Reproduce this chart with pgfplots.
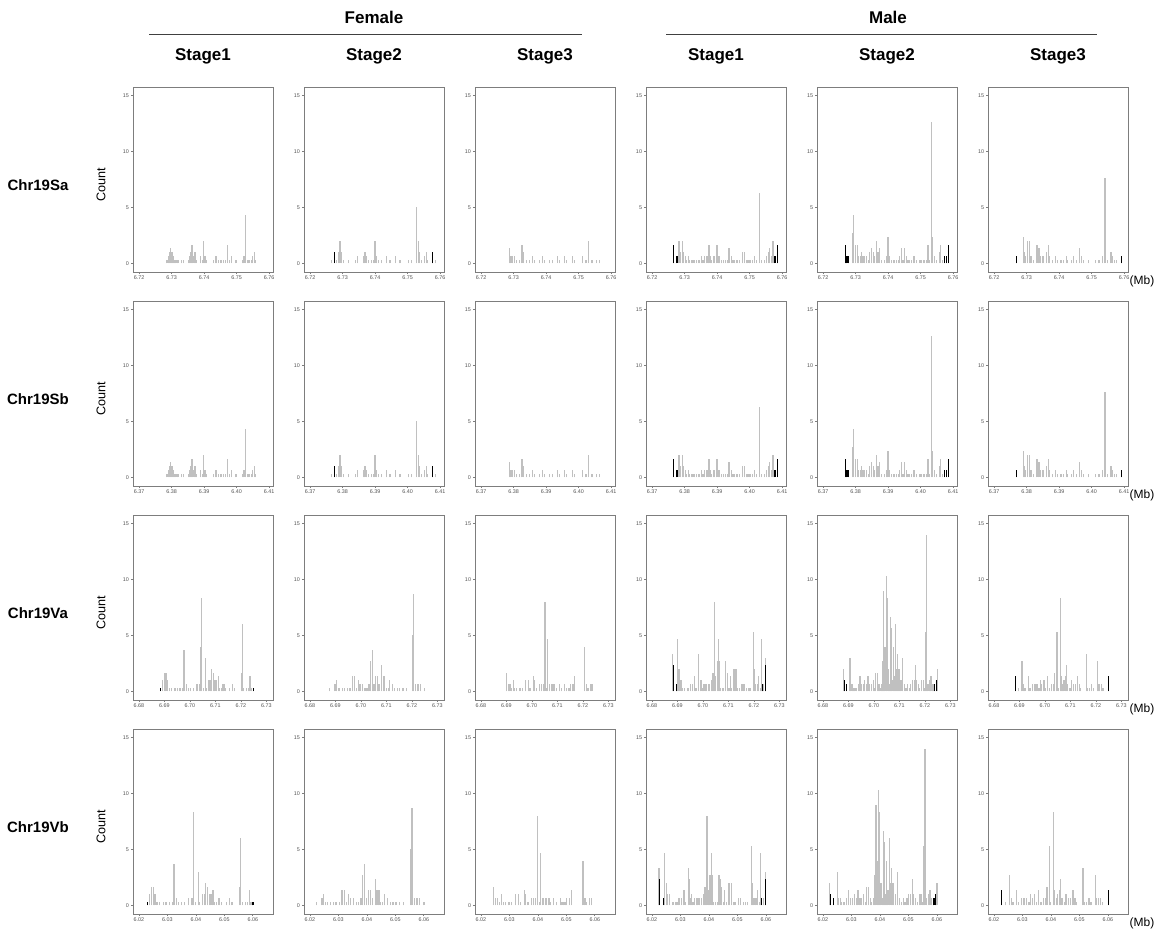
\documentclass[border=0pt]{standalone}
\usepackage{fontspec}
\setmainfont{Liberation Sans}
\usepackage{pgfplots}
\usepackage{pgfplotstable}
\pgfplotsset{compat=1.18}
\definecolor{barc}{RGB}{192,192,192}
\definecolor{framec}{RGB}{125,125,125}
\definecolor{tickc}{RGB}{85,85,85}

% ---------- gene S (Chr19Sa / Chr19Sb), x in kb from 6.72 (Sa) / 6.37 (Sb)
\pgfplotstableread{
x y
8.6 0.33
9.0 0.67
9.3 1.0
9.6 1.33
9.9 1.0
10.3 1.0
10.6 0.67
11.0 0.33
11.4 0.33
12.0 0.33
13.0 0.33
13.8 0.33
15.3 0.33
15.7 0.67
16.0 1.0
16.3 1.67
16.6 0.67
17.0 1.0
17.4 1.0
17.7 0.33
19.0 0.67
19.4 0.33
19.8 2.0
20.1 0.67
20.5 0.67
20.8 0.33
22.8 0.33
23.4 0.67
23.8 0.67
24.4 0.33
25.2 0.33
25.9 0.33
26.5 0.33
27.2 1.67
27.8 0.33
28.5 0.67
29.8 0.33
31.8 0.33
32.3 0.67
32.8 4.33
33.3 0.33
33.8 0.33
34.5 0.33
34.9 0.67
35.4 1.0
35.9 0.33
}\SFa
\pgfplotstableread{
x y
6.7 0.33
8.2 0.33
8.7 1.0
9.2 2.0
9.7 1.0
10.3 0.33
11.8 0.33
13.9 0.33
14.5 0.67
16.4 0.67
16.9 1.0
17.4 0.67
17.9 0.33
19.0 0.33
19.5 0.33
20.0 2.0
20.5 0.67
21.0 0.33
22.1 0.33
23.6 0.67
24.6 0.33
26.2 0.67
27.7 0.33
30.3 0.33
31.1 0.33
32.8 5.0
33.3 2.0
33.6 1.0
34.4 0.33
35.1 0.67
35.7 1.0
36.2 0.33
38.5 0.33
}\SFb
\pgfplotstableread{
x y
7.5 1.0
37.7 1.0
}\SFbK
\pgfplotstableread{
x y
8.7 1.33
9.2 0.67
9.7 0.67
10.3 0.67
10.8 0.33
11.8 0.33
12.6 1.67
13.0 1.0
13.9 0.33
14.9 0.33
15.9 0.67
16.4 0.33
18.0 0.33
19.0 0.67
19.5 0.33
21.0 0.33
22.1 0.33
23.6 0.67
24.1 0.33
25.6 0.67
26.2 0.33
28.2 0.67
28.7 0.33
31.3 0.67
32.3 0.33
33.1 2.0
33.9 0.33
34.4 0.33
35.4 0.33
36.4 0.33
}\SFc
\pgfplotstableread{
x y
8.3 2.0
8.8 1.0
9.3 2.0
9.7 1.0
10.2 0.67
10.6 0.33
11.1 0.67
11.6 0.33
12.1 0.33
12.6 0.33
13.1 0.33
13.6 0.33
14.2 0.33
14.7 0.33
15.2 0.67
15.7 0.33
16.2 0.67
16.9 0.67
17.5 1.67
17.9 0.67
18.3 0.33
18.8 0.67
19.3 0.67
20.0 1.67
20.4 0.67
20.8 0.67
21.3 0.33
21.9 0.33
22.7 0.33
23.2 0.33
23.7 1.33
24.4 0.67
24.9 0.33
25.4 0.33
25.9 0.33
26.4 0.33
26.9 0.33
27.8 1.0
28.5 1.0
29.0 0.33
29.5 0.33
30.1 0.33
30.9 0.33
31.6 0.67
32.1 0.33
33.1 6.33
33.7 0.33
34.7 0.33
35.2 0.67
35.7 1.0
36.2 1.33
36.7 0.67
37.2 2.0
}\SMa
\pgfplotstableread{
x y
6.7 1.67
7.7 0.67
37.8 0.67
38.6 1.67
}\SMaK
\pgfplotstableread{
x y
9.0 2.67
9.4 4.33
9.9 1.67
10.5 1.67
11.0 0.67
11.5 0.67
11.9 1.0
12.3 0.67
12.8 0.67
13.3 0.67
13.9 0.33
14.4 1.0
14.9 1.33
15.4 1.0
15.9 0.67
16.4 2.0
16.9 1.0
17.4 1.33
18.0 0.33
19.0 0.33
19.5 0.67
20.0 2.33
20.5 0.67
21.0 0.33
21.6 0.33
22.1 0.33
22.6 0.33
23.1 0.33
23.6 0.67
24.1 1.33
24.6 0.33
25.1 1.33
25.6 0.67
26.1 0.33
26.7 0.33
27.2 0.33
27.7 0.67
28.2 0.67
28.7 0.33
29.8 0.33
30.3 0.33
30.8 0.33
31.3 0.33
31.8 0.33
32.3 1.67
32.8 0.33
33.3 12.67
33.7 2.33
34.4 0.67
34.9 0.33
35.7 1.0
36.2 1.67
36.7 0.33
}\SMb
\pgfplotstableread{
x y
6.9 1.67
7.4 0.67
7.9 0.67
37.4 0.67
38.0 0.67
38.7 1.67
}\SMbK
\pgfplotstableread{
x y
9.0 2.33
9.3 1.0
9.7 0.67
10.3 2.0
10.8 2.0
11.4 0.67
12.2 0.33
13.2 1.67
13.8 1.33
14.3 0.67
14.8 0.67
15.3 0.67
16.2 1.0
16.7 1.67
17.1 0.67
18.0 0.33
19.0 0.67
19.6 0.33
20.6 0.33
21.4 0.33
22.2 0.67
22.7 0.33
23.8 0.33
24.5 0.67
25.4 0.33
26.4 1.33
26.9 0.67
27.5 0.33
29.1 0.33
31.2 0.33
32.3 0.33
33.3 0.67
34.1 7.67
34.9 0.33
36.0 1.0
36.5 0.67
37.0 0.33
37.6 0.33
}\SMc
\pgfplotstableread{
x y
6.9 0.67
39.3 0.67
}\SMcK

% ---------- gene V (Chr19Va / Chr19Vb), x in kb from 6.68 (Va)
\pgfplotstableread{
x y
9.3 1.0
10.0 1.67
10.6 1.67
11.2 1.0
11.9 0.33
12.8 0.33
14.1 0.33
15.0 0.33
16.1 0.33
17.1 0.33
17.7 3.67
18.7 0.67
19.3 0.33
20.2 0.33
21.3 0.33
22.8 0.67
23.6 0.67
24.1 0.67
24.3 4.0
24.5 8.33
25.2 0.33
26.0 3.0
26.5 0.33
27.5 1.0
28.1 1.0
28.5 2.0
29.1 1.67
29.8 1.0
30.4 1.0
31.1 1.33
31.7 0.33
32.4 0.33
33.0 0.67
33.4 0.67
34.1 0.33
35.6 0.33
36.7 0.67
37.6 0.33
40.2 1.67
40.6 6.0
41.1 0.33
42.2 0.33
42.9 0.33
43.6 1.33
44.1 0.33
}\VFa
\pgfplotstableread{
x y
8.5 0.33
44.8 0.33
}\VFaK
\pgfplotstableread{
x y
7.8 0.33
9.8 0.67
10.4 1.0
11.1 0.33
11.7 0.33
12.8 0.33
13.7 0.33
14.6 0.33
15.7 0.33
16.7 1.33
17.6 1.33
18.3 0.33
18.9 1.0
19.6 0.67
20.6 0.67
21.6 0.33
22.4 0.33
23.2 0.67
23.8 2.67
24.4 3.67
25.1 0.67
25.8 1.33
26.4 1.33
27.1 0.67
28.1 2.33
28.7 1.33
29.4 1.33
30.0 0.33
30.7 0.33
31.3 1.0
32.4 0.67
33.3 0.33
34.2 0.33
35.2 0.33
36.5 0.33
37.8 0.33
40.2 5.0
40.7 8.67
41.5 0.67
42.4 0.67
43.3 0.67
44.8 0.33
}\VFb
\pgfplotstableread{
x y
10.0 1.67
10.7 0.67
11.4 0.67
12.0 0.33
12.7 1.0
13.3 0.33
14.0 0.33
15.3 0.33
16.3 0.33
17.6 1.0
18.5 1.0
19.2 0.33
20.5 1.33
21.1 1.0
21.8 0.33
23.1 0.67
23.8 0.67
24.4 0.67
25.1 8.0
25.7 0.33
26.2 4.67
27.0 0.67
27.7 0.67
28.3 0.67
29.0 0.67
29.6 0.33
30.7 0.67
31.6 0.33
32.9 0.67
33.5 0.33
34.2 0.33
34.7 0.33
35.1 0.67
36.1 0.67
36.8 1.33
40.7 4.0
41.4 0.67
42.0 0.33
42.9 0.67
43.6 0.67
}\VFc
\pgfplotstableread{
x y
8.1 3.33
10.1 4.67
10.6 2.0
11.0 1.0
11.6 1.0
11.8 0.33
12.9 0.33
13.9 0.33
14.3 0.33
15.0 0.67
15.8 0.67
16.7 1.33
17.3 0.33
18.1 3.33
18.4 2.33
18.9 0.67
19.2 1.0
19.8 0.33
20.4 0.67
21.0 0.67
21.5 0.67
22.1 0.67
22.7 0.67
23.3 1.0
23.6 1.67
24.2 1.67
24.6 8.0
25.0 1.33
25.6 2.67
26.1 4.67
26.5 2.67
26.9 0.33
27.6 0.33
28.1 0.33
28.7 2.67
29.0 2.33
29.6 1.67
30.2 0.33
30.7 1.33
31.3 0.33
31.9 2.0
32.4 2.0
33.0 2.0
33.6 0.33
34.2 0.33
35.3 0.67
36.1 0.67
37.0 0.33
37.9 0.33
38.5 0.33
39.9 5.33
40.3 2.0
40.7 0.67
41.4 0.67
41.9 1.33
42.6 0.33
43.0 4.67
43.9 0.67
44.7 3.0
}\VMa
\pgfplotstableread{
x y
8.3 2.33
9.7 0.67
43.4 0.67
44.7 2.33
}\VMaK
\pgfplotstableread{
x y
8.0 2.0
10.6 3.0
11.0 0.67
11.6 0.67
12.1 0.33
12.6 0.33
13.2 0.33
13.8 0.67
14.5 1.33
15.1 0.67
15.8 0.67
16.4 1.0
17.1 0.67
17.7 1.33
18.4 0.67
19.0 0.67
19.7 1.0
20.2 0.33
20.7 1.67
21.3 1.67
22.0 0.67
22.4 0.33
22.9 0.67
23.5 2.67
23.9 9.0
24.3 4.0
24.8 10.33
25.1 8.33
25.6 2.0
26.1 0.67
26.5 6.67
26.7 5.67
27.1 1.0
27.6 4.0
28.0 1.33
28.4 6.0
28.7 2.0
29.1 3.33
29.5 2.0
30.0 2.0
30.6 1.0
31.3 3.0
31.9 0.67
32.6 0.33
33.2 0.67
33.8 0.33
34.5 0.67
35.1 1.0
35.8 1.0
36.4 2.33
36.8 1.0
37.5 0.67
38.0 0.33
38.7 1.0
39.3 1.0
39.8 0.33
40.3 5.33
40.7 14.0
41.2 0.67
41.8 1.0
42.4 1.33
42.9 0.67
43.5 0.67
44.8 2.0
}\VMb
\pgfplotstableread{
x y
8.3 1.0
9.3 0.67
43.8 0.67
44.4 1.0
}\VMbK
\pgfplotstableread{
x y
9.7 0.33
11.0 2.67
11.6 0.67
12.2 0.33
13.5 1.33
14.1 0.33
15.0 0.67
15.8 0.67
16.3 0.67
16.9 0.67
17.7 0.33
18.3 1.0
18.8 0.67
19.6 1.0
20.2 0.33
21.1 1.33
21.8 0.33
22.7 0.67
23.3 0.67
23.9 1.67
24.7 5.33
25.2 0.33
26.0 8.33
26.5 1.33
27.1 0.67
27.5 1.0
28.2 1.33
28.5 2.33
29.0 0.67
29.8 0.33
30.4 1.0
31.3 0.67
32.0 0.67
32.8 1.33
33.5 0.67
34.1 0.33
36.2 3.33
36.7 0.33
37.5 0.33
38.3 0.67
39.0 0.33
40.5 2.67
40.9 0.67
41.5 0.67
42.2 0.67
42.8 0.33
}\VMc
\pgfplotstableread{
x y
8.4 1.33
44.9 1.33
}\VMcK

\pgfplotsset{
  panel/.style={
    scale only axis, width=70pt, height=92.5pt, anchor=north west,
    ymin=-0.78, ymax=15.78, ytick={0,5,10,15},
    axis line style={framec, line width=0.4pt},
    tick style={framec, line width=0.3pt},
    tick pos=left, tick align=outside, major tick length=1pt,
    tick label style={font=\fontsize{2.7}{3}\selectfont, text=tickc},
    /pgf/number format/assume math mode=true,
    xticklabel style={inner sep=0.8pt}, yticklabel style={inner sep=0.8pt},
  },
  rowSa/.style={xmin=-1.85, xmax=41.2, xtick={0,10,20,30,40}, xticklabels={6.72,6.73,6.74,6.75,6.76}},
  rowSb/.style={xmin=-1.85, xmax=41.2, xtick={0,10,20,30,40}, xticklabels={6.37,6.38,6.39,6.40,6.41}},
  rowVa/.style={xmin=-2.35, xmax=52.6, xtick={0,10,20,30,40,50}, xticklabels={6.68,6.69,6.70,6.71,6.72,6.73}},
  rowVb/.style={xmin=3.65, xmax=51.67, xtick={5.7,15.46,25.22,34.98,44.74}, xticklabels={6.02,6.03,6.04,6.05,6.06}},
  gbar/.style={ycomb, draw=barc, line width=0.6pt, mark=none},
  kbar/.style={ycomb, draw=black, line width=0.6pt, mark=none},
}

\newcommand{\pan}[5]{%
  \begin{axis}[panel,#3,at={(#1pt,-#2pt)}]
    \addplot[gbar] table {#4};
    #5
  \end{axis}}

\begin{document}
\begin{tikzpicture}
\path[use as bounding box] (0,0) rectangle (581pt,-464pt);

% headers
\node[font=\bfseries\fontsize{8.5}{10}\selectfont] at (187pt,-8.5pt) {Female};
\node[font=\bfseries\fontsize{8.5}{10}\selectfont] at (444pt,-8.5pt) {Male};
\draw[black!75, line width=0.5pt] (74.5pt,-17pt) -- (291pt,-17pt);
\draw[black!75, line width=0.5pt] (333pt,-17pt) -- (548.5pt,-17pt);
\foreach \cx/\t in {101.5/Stage1,187/Stage2,272.5/Stage3,358/Stage1,443.5/Stage2,529/Stage3}
  \node[font=\bfseries\fontsize{8.5}{10}\selectfont] at (\cx pt,-28pt) {\t};

% row labels, Count labels, (Mb)
\foreach \ry/\t in {43.5/Chr19Sa,150.5/Chr19Sb,257.5/Chr19Va,364.5/Chr19Vb}{
  \node[font=\bfseries\fontsize{7.5}{9}\selectfont] at (19pt,-\ry pt-49pt) {\t};
  \node[font=\fontsize{6.3}{7}\selectfont, rotate=90] at (50.5pt,-\ry pt-49pt) {Count};
  \node[font=\fontsize{6}{7}\selectfont] at (571pt,-\ry pt-97pt) {(Mb)};
}

% row Sa
\pan{66.5}{43.5}{rowSa}{\SFa}{}
\pan{152}{43.5}{rowSa}{\SFb}{\addplot[kbar] table {\SFbK};}
\pan{237.5}{43.5}{rowSa}{\SFc}{}
\pan{323}{43.5}{rowSa}{\SMa}{\addplot[kbar] table {\SMaK};}
\pan{408.5}{43.5}{rowSa}{\SMb}{\addplot[kbar] table {\SMbK};}
\pan{494}{43.5}{rowSa}{\SMc}{\addplot[kbar] table {\SMcK};}
% row Sb
\pan{66.5}{150.5}{rowSb}{\SFa}{}
\pan{152}{150.5}{rowSb}{\SFb}{\addplot[kbar] table {\SFbK};}
\pan{237.5}{150.5}{rowSb}{\SFc}{}
\pan{323}{150.5}{rowSb}{\SMa}{\addplot[kbar] table {\SMaK};}
\pan{408.5}{150.5}{rowSb}{\SMb}{\addplot[kbar] table {\SMbK};}
\pan{494}{150.5}{rowSb}{\SMc}{\addplot[kbar] table {\SMcK};}
% row Va
\pan{66.5}{257.5}{rowVa}{\VFa}{\addplot[kbar] table {\VFaK};}
\pan{152}{257.5}{rowVa}{\VFb}{}
\pan{237.5}{257.5}{rowVa}{\VFc}{}
\pan{323}{257.5}{rowVa}{\VMa}{\addplot[kbar] table {\VMaK};}
\pan{408.5}{257.5}{rowVa}{\VMb}{\addplot[kbar] table {\VMbK};}
\pan{494}{257.5}{rowVa}{\VMc}{\addplot[kbar] table {\VMcK};}
% row Vb
\pan{66.5}{364.5}{rowVb}{\VFa}{\addplot[kbar] table {\VFaK};}
\pan{152}{364.5}{rowVb}{\VFb}{}
\pan{237.5}{364.5}{rowVb}{\VFc}{}
\pan{323}{364.5}{rowVb}{\VMa}{\addplot[kbar] table {\VMaK};}
\pan{408.5}{364.5}{rowVb}{\VMb}{\addplot[kbar] table {\VMbK};}
\pan{494}{364.5}{rowVb}{\VMc}{\addplot[kbar] table {\VMcK};}
\end{tikzpicture}
\end{document}
